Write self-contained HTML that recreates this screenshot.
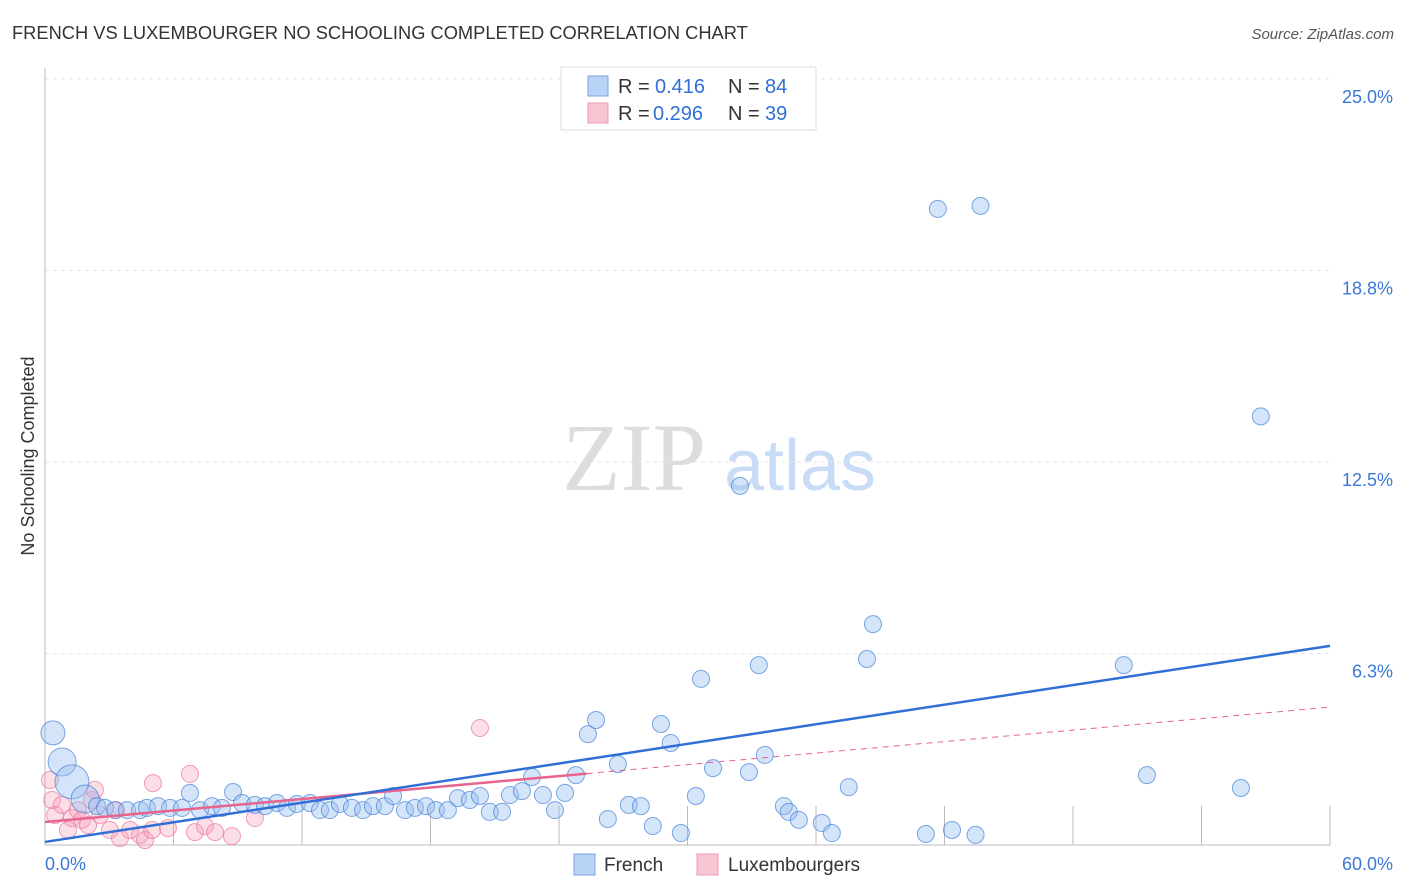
<!DOCTYPE html>
<html><head><meta charset="utf-8"><style>
body{margin:0;background:#fff;font-family:"Liberation Sans",sans-serif;}
svg{display:block}
</style></head><body>
<svg id="chart" width="1406" height="892" xmlns="http://www.w3.org/2000/svg">
<text x="12" y="39" font-size="18.3" fill="#333">FRENCH VS LUXEMBOURGER NO SCHOOLING COMPLETED CORRELATION CHART</text>
<text x="1394" y="39" font-size="15" fill="#555" text-anchor="end" font-style="italic">Source: ZipAtlas.com</text>
<text x="34" y="456" font-size="18" fill="#333" text-anchor="middle" transform="rotate(-90 34 456)">No Schooling Completed</text>
<g><text x="634" y="490" font-size="96" fill="#ddd" font-family="Liberation Serif" text-anchor="middle">ZIP</text><text x="800" y="490" font-size="72" fill="#c9dcf5" text-anchor="middle">atlas</text></g>
<g id="grid"></g><g id="axes"></g><g id="marks"></g>
<g>
<rect x="561" y="67" width="255" height="63" fill="#fff" stroke="#ddd"/>
<rect x="588" y="76" width="20" height="20" fill="#b8d3f5" stroke="#7aa6e0"/>
<rect x="588" y="103" width="20" height="20" fill="#f8c5d3" stroke="#ec9ab2"/>
<text x="618" y="93" font-size="20" fill="#333">R =</text><text x="655" y="93" font-size="20" fill="#2f6fd6">0.416</text>
<text x="728" y="93" font-size="20" fill="#333">N =</text><text x="765" y="93" font-size="20" fill="#2f6fd6">84</text>
<text x="618" y="120" font-size="20" fill="#333">R =</text><text x="653" y="120" font-size="20" fill="#2f6fd6">0.296</text>
<text x="728" y="120" font-size="20" fill="#333">N =</text><text x="765" y="120" font-size="20" fill="#2f6fd6">39</text>
</g>
<g>
<rect x="574" y="854" width="21" height="21" fill="#b8d3f5" stroke="#7aa6e0"/>
<text x="604" y="871" font-size="19" fill="#333">French</text>
<rect x="697" y="854" width="21" height="21" fill="#f8c5d3" stroke="#ec9ab2"/>
<text x="728" y="871" font-size="19" fill="#333">Luxembourgers</text>
</g>
</svg>
<script>
const yTicks=[6.25,12.5,18.75,25];
const yTickLabels=["6.3%","12.5%","18.8%","25.0%"];
const xTickLabels=["0.0%","60.0%"];
const frenchX=[0.37,0.8,1.26,1.87,2.43,2.8,3.27,3.83,4.44,4.76,5.28,5.84,6.4,6.77,7.24,7.8,8.26,8.78,9.2,9.8,10.27,10.83,11.3,11.76,12.37,12.84,13.3,13.77,14.33,14.85,15.31,15.87,16.25,16.81,17.27,17.79,18.25,18.81,19.28,19.84,20.31,20.77,21.34,21.71,22.27,22.74,23.25,23.81,24.28,24.79,25.35,25.73,26.28,26.75,27.26,27.82,28.38,28.76,29.22,29.69,30.39,30.63,31.19,32.45,32.87,33.33,33.61,34.5,34.73,35.2,36.27,36.74,37.53,38.38,38.66,41.13,41.69,42.35,43.45,43.68,50.37,51.45,55.84,56.77];
const frenchY=[3.66,2.71,2.06,1.5,1.27,1.21,1.14,1.14,1.14,1.21,1.27,1.21,1.21,1.7,1.14,1.27,1.21,1.73,1.37,1.31,1.27,1.37,1.21,1.34,1.37,1.14,1.14,1.34,1.21,1.14,1.27,1.27,1.6,1.14,1.21,1.27,1.14,1.14,1.53,1.47,1.6,1.08,1.08,1.63,1.76,2.22,1.63,1.14,1.7,2.28,3.62,4.08,0.85,2.64,1.31,1.27,0.62,3.95,3.33,0.39,1.6,5.42,2.51,11.72,2.38,5.87,2.94,1.27,1.08,0.82,0.72,0.39,1.89,6.07,7.21,0.36,20.76,0.49,0.33,20.86,5.87,2.28,1.86,13.99];
const frenchR=[12,14,17,14];
const luxX=[0.23,0.33,0.47,0.79,1.07,1.26,1.54,1.73,2.01,2.19,2.33,2.57,3.03,3.31,3.5,3.97,4.44,4.67,5.0,5.04,5.74,6.77,7.0,7.47,7.94,8.73,9.8,20.31];
const luxY=[2.12,1.47,0.98,1.31,0.49,0.88,1.14,0.82,0.65,1.47,1.8,0.98,0.49,1.14,0.23,0.49,0.33,0.16,0.49,2.02,0.55,2.32,0.42,0.62,0.42,0.29,0.88,3.82];
const trendBlue=[0.1,6.5];   // value at x=0 and x=60
const trendPink=[0.75,4.5];
const pinkSolidEnd=25.3;
const X=v=>45+v/60*1285, Y=v=>845-v*30.64;
const ns="http://www.w3.org/2000/svg";
function mk(t,a,p){const e=document.createElementNS(ns,t);for(const k in a)e.setAttribute(k,a[k]);p.appendChild(e);return e;}
const grid=document.getElementById('grid'),axes=document.getElementById('axes'),marks=document.getElementById('marks');
yTicks.forEach((t,i)=>{
 const l=mk('line',{x1:45,x2:1330,y1:Y(t),y2:Y(t),stroke:'#e4e4e4','stroke-dasharray':'4 4'},grid);
 
 
 const tx=mk('text',{x:1393,y:Y(t)+24,'font-size':18,fill:'#3a78d8','text-anchor':'end'},axes);tx.textContent=yTickLabels[i];
 
 
});
const ax=mk('line',{x1:45,x2:45,y1:68,y2:845,stroke:'#bbb'},axes);


const bx=mk('line',{x1:45,x2:1330,y1:845,y2:845,stroke:'#bbb'},axes);


for(let i=1;i<=10;i++){const t=mk('line',{x1:X(i*6),x2:X(i*6),y1:806,y2:845,stroke:'#bbb'},axes);
 
 }
[[0,'start',45],[60,'end',1393]].forEach((d,i)=>{const t=mk('text',{x:d[2],y:870,'font-size':18,fill:'#3a78d8','text-anchor':d[1]},axes);t.textContent=xTickLabels[i];
 
 });
luxX.forEach((x,i)=>{const c=mk('circle',{cx:X(x),cy:Y(luxY[i]),r:8.5,fill:'rgba(245,160,185,0.35)',stroke:'rgba(235,120,155,0.7)'},marks);
 
 });
frenchX.forEach((x,i)=>{const c=mk('circle',{cx:X(x),cy:Y(frenchY[i]),r:frenchR[i]||8.5,fill:'rgba(150,190,240,0.4)',stroke:'rgba(70,130,215,0.7)'},marks);
 
 });
const pv=x=>trendPink[0]+(trendPink[1]-trendPink[0])*x/60;
const p1=mk('line',{x1:X(0),y1:Y(pv(0)),x2:X(pinkSolidEnd),y2:Y(pv(pinkSolidEnd)),stroke:'#e8648e','stroke-width':2.5},marks);


const p2=mk('line',{x1:X(pinkSolidEnd),y1:Y(pv(pinkSolidEnd)),x2:X(60),y2:Y(pv(60)),stroke:'#e8648e','stroke-width':1,'stroke-dasharray':'6 5'},marks);


const b=mk('line',{x1:X(0),y1:Y(trendBlue[0]),x2:X(60),y2:Y(trendBlue[1]),stroke:'#2f6fd6','stroke-width':2.5},marks);


</script>
</body></html>
